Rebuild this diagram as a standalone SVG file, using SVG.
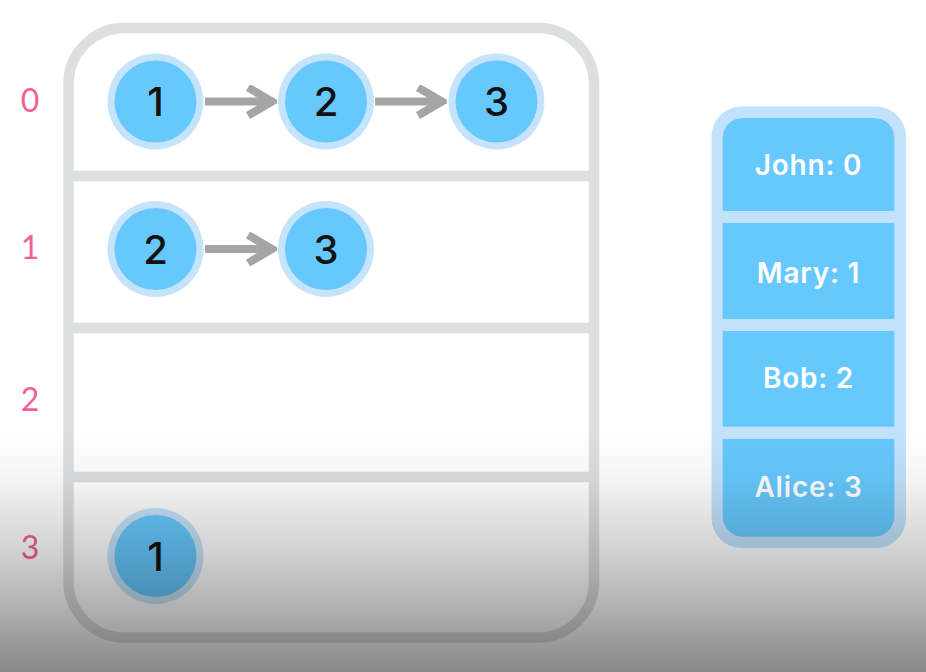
<svg xmlns="http://www.w3.org/2000/svg" width="926" height="672" viewBox="0 0 926 672">
  <defs>
    <style>
      .idx { font-family: "Lato", "Noto Sans", sans-serif; font-size: 32px; fill: #f0609a; text-anchor: middle; }
      .ring { fill: #c5e4fb; }
      .core { fill: #66c8fd; }
      .num { font-family: "Inter", "Noto Sans", sans-serif; font-weight: 500; font-size: 40px; fill: #111; text-anchor: middle; }
      .edge { stroke: #a5a5a5; stroke-width: 8; fill: none; }
      .cell { fill: #66c8fd; }
      .kv { font-family: "Inter", "Noto Sans", sans-serif; font-weight: 600; font-size: 28px; letter-spacing: 0.8px; fill: #ffffff; text-anchor: middle; }
      .frame { fill: #ffffff; stroke: #dcdedf; stroke-width: 10.5; }
    </style>
    <marker id="chev" viewBox="0 0 32 34" refX="28" refY="17" markerWidth="32" markerHeight="34" markerUnits="userSpaceOnUse" orient="auto">
      <path d="M3,3 L27,17 L3,31" fill="none" stroke="#a5a5a5" stroke-width="8"/>
    </marker>
    <linearGradient id="shade" x1="0" y1="430" x2="0" y2="672" gradientUnits="userSpaceOnUse">
      <stop offset="0" stop-color="#000" stop-opacity="0"/>
      <stop offset="0.2" stop-color="#000" stop-opacity="0.04"/>
      <stop offset="0.52" stop-color="#000" stop-opacity="0.19"/>
      <stop offset="0.79" stop-color="#000" stop-opacity="0.34"/>
      <stop offset="1" stop-color="#000" stop-opacity="0.47"/>
    </linearGradient>
  </defs>

  <rect x="0" y="0" width="926" height="672" fill="#ffffff"/>

  <g id="table">
    <rect class="frame" x="68.5" y="28" width="525.5" height="609.5" rx="56"/>
    <line x1="68.5" y1="176" x2="594" y2="176" stroke="#dcdedf" stroke-width="10.5"/>
    <line x1="68.5" y1="328" x2="594" y2="328" stroke="#dcdedf" stroke-width="10.5"/>
    <line x1="68.5" y1="477" x2="594" y2="477" stroke="#dcdedf" stroke-width="10.5"/>
  </g>

  <g id="indices">
    <text class="idx" x="30" y="112">0</text>
    <text class="idx" x="30" y="259">1</text>
    <text class="idx" x="30" y="411">2</text>
    <text class="idx" x="30" y="559">3</text>
  </g>

  <g id="connectors">
    <line class="edge" x1="205" y1="101.5" x2="273" y2="101.5" marker-end="url(#chev)"/>
    <line class="edge" x1="375" y1="101.5" x2="443" y2="101.5" marker-end="url(#chev)"/>
    <line class="edge" x1="205" y1="249" x2="273" y2="249" marker-end="url(#chev)"/>
  </g>

  <g id="n0a"><circle class="ring" cx="155.5" cy="101.5" r="48"/><circle class="core" cx="155.5" cy="101.5" r="41"/><text class="num" x="155.5" y="116">1</text></g>
  <g id="n0b"><circle class="ring" cx="326" cy="101.5" r="48"/><circle class="core" cx="326" cy="101.5" r="41"/><text class="num" x="326" y="116">2</text></g>
  <g id="n0c"><circle class="ring" cx="496.5" cy="101.5" r="48"/><circle class="core" cx="496.5" cy="101.5" r="41"/><text class="num" x="496.5" y="116">3</text></g>
  <g id="n1a"><circle class="ring" cx="155.5" cy="249" r="48"/><circle class="core" cx="155.5" cy="249" r="41"/><text class="num" x="155.5" y="263.5">2</text></g>
  <g id="n1b"><circle class="ring" cx="326" cy="249" r="48"/><circle class="core" cx="326" cy="249" r="41"/><text class="num" x="326" y="263.5">3</text></g>
  <g id="n3a"><circle class="ring" cx="155.5" cy="556" r="48"/><circle class="core" cx="155.5" cy="556" r="41"/><text class="num" x="155.5" y="570.5">1</text></g>

  <g id="keys">
    <rect x="711.5" y="106.5" width="194.5" height="441.5" rx="30" fill="#c2e2fb"/>
    <g id="k0">
      <path class="cell" d="M722.7,211 V138 A20,20 0 0 1 742.7,118 H874.3 A20,20 0 0 1 894.3,138 V211 Z"/>
      <text class="kv" x="808.5" y="175">John: 0</text>
    </g>
    <g id="k1">
      <rect class="cell" x="722.7" y="223" width="171.6" height="96"/>
      <text class="kv" x="808.5" y="283">Mary: 1</text>
    </g>
    <g id="k2">
      <rect class="cell" x="722.7" y="331" width="171.6" height="95.7"/>
      <text class="kv" x="808.5" y="388">Bob: 2</text>
    </g>
    <g id="k3">
      <path class="cell" d="M722.7,439 H894.3 V516.7 A20,20 0 0 1 874.3,536.7 H742.7 A20,20 0 0 1 722.7,516.7 Z"/>
      <text class="kv" x="808.5" y="497">Alice: 3</text>
    </g>
  </g>

  <rect x="0" y="430" width="926" height="242" fill="url(#shade)"/>
</svg>
